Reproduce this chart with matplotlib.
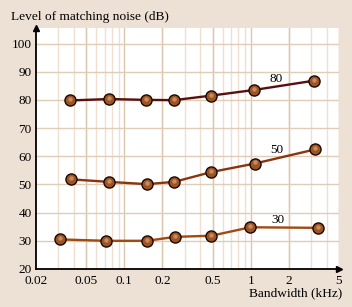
import numpy as np
import matplotlib.pyplot as plt

# data
bw80 = [0.0374, 0.076, 0.1485, 0.247, 0.485, 1.06, 3.16]
lv80 = [79.8, 80.3, 80.0, 79.9, 81.5, 83.5, 86.8]
bw50 = [0.0379, 0.076, 0.150, 0.248, 0.489, 1.075, 3.22]
lv50 = [51.8, 50.9, 50.1, 50.9, 54.4, 57.4, 62.4]
bw30 = [0.0307, 0.0714, 0.151, 0.252, 0.489, 0.995, 3.42]
lv30 = [30.5, 30.0, 30.0, 31.4, 31.8, 34.8, 34.6]

xticks = [0.02, 0.05, 0.1, 0.2, 0.5, 1, 2, 5]
xticklabels = ['0.02', '0.05', '0.1', '0.2', '0.5', '1', '2', '5']
yticks = [20, 30, 40, 50, 60, 70, 80, 90, 100]

bg = '#ede1d5'
plt.rcParams['font.family'] = ['Liberation Serif', 'DejaVu Serif']

fig = plt.figure(figsize=(3.52, 3.07), dpi=100, facecolor=bg)
ax = fig.add_axes([0.1023, 0.1238, 0.8607, 0.785])
ax.set_facecolor('white')
ax.set_xscale('log')
ax.set_xlim(0.02, 5)
ax.set_ylim(20, 105.5)

# grid: light at every integer multiple, darker at labelled ones
minor = [m * d for d in [0.01, 0.1, 1] for m in range(2, 10)] + [3, 4]
for v in sorted(set(np.round(minor, 4))):
    if 0.02 < v <= 5:
        ax.axvline(v, color='#eedfd0', lw=1, zorder=0)
for v in xticks[1:]:
    ax.axvline(v, color='#dcc6ae', lw=1, zorder=0)
for v in yticks[1:]:
    ax.axhline(v, color='#e0cdb8', lw=1, zorder=0)

series = [(bw80, lv80, '#5a0f0f'), (bw50, lv50, '#8a3510'), (bw30, lv30, '#a04a12')]
for bw, lv, c in series:
    ax.plot(bw, lv, color=c, lw=1.7, zorder=2)
    ax.plot(bw, lv, 'o', ms=8, mfc='#9c5426', mec='#1a0800', mew=1.0, zorder=3)
    # highlight for the ball look
    ax.plot(bw, np.array(lv) + 0.4, 'o', ms=3.2, mfc='#c98a5c', mec='none', zorder=4)

ax.text(1.6, 87.3, '80', fontsize=9.5, ha='center', va='center')
ax.text(1.6, 62.3, '50', fontsize=9.5, ha='center', va='center')
ax.text(1.65, 37.3, '30', fontsize=9.5, ha='center', va='center')

ax.set_xticks(xticks)
ax.set_xticklabels(xticklabels)
ax.set_xticks([], minor=True)
ax.set_yticks(yticks)
ax.tick_params(length=0, labelsize=9.5)
ax.tick_params(axis='x', pad=4)
ax.tick_params(axis='y', pad=3)

for s in ['top', 'right']:
    ax.spines[s].set_visible(False)
for s in ['left', 'bottom']:
    ax.spines[s].set_linewidth(1.3)

# arrow heads on the axes
ax.plot(0, 1, '^', ms=5, color='black', transform=ax.transAxes, clip_on=False)
ax.plot(1, 0, '>', ms=5, color='black', transform=ax.transAxes, clip_on=False)

fig.text(11 / 352, 1 - 17 / 307, 'Level of matching noise (dB)', fontsize=9.6, va='center')
fig.text(342 / 352, 1 - 293 / 307, 'Bandwidth (kHz)', fontsize=9.6, ha='right', va='center')

fig.savefig('out.png', dpi=100, facecolor=bg)
